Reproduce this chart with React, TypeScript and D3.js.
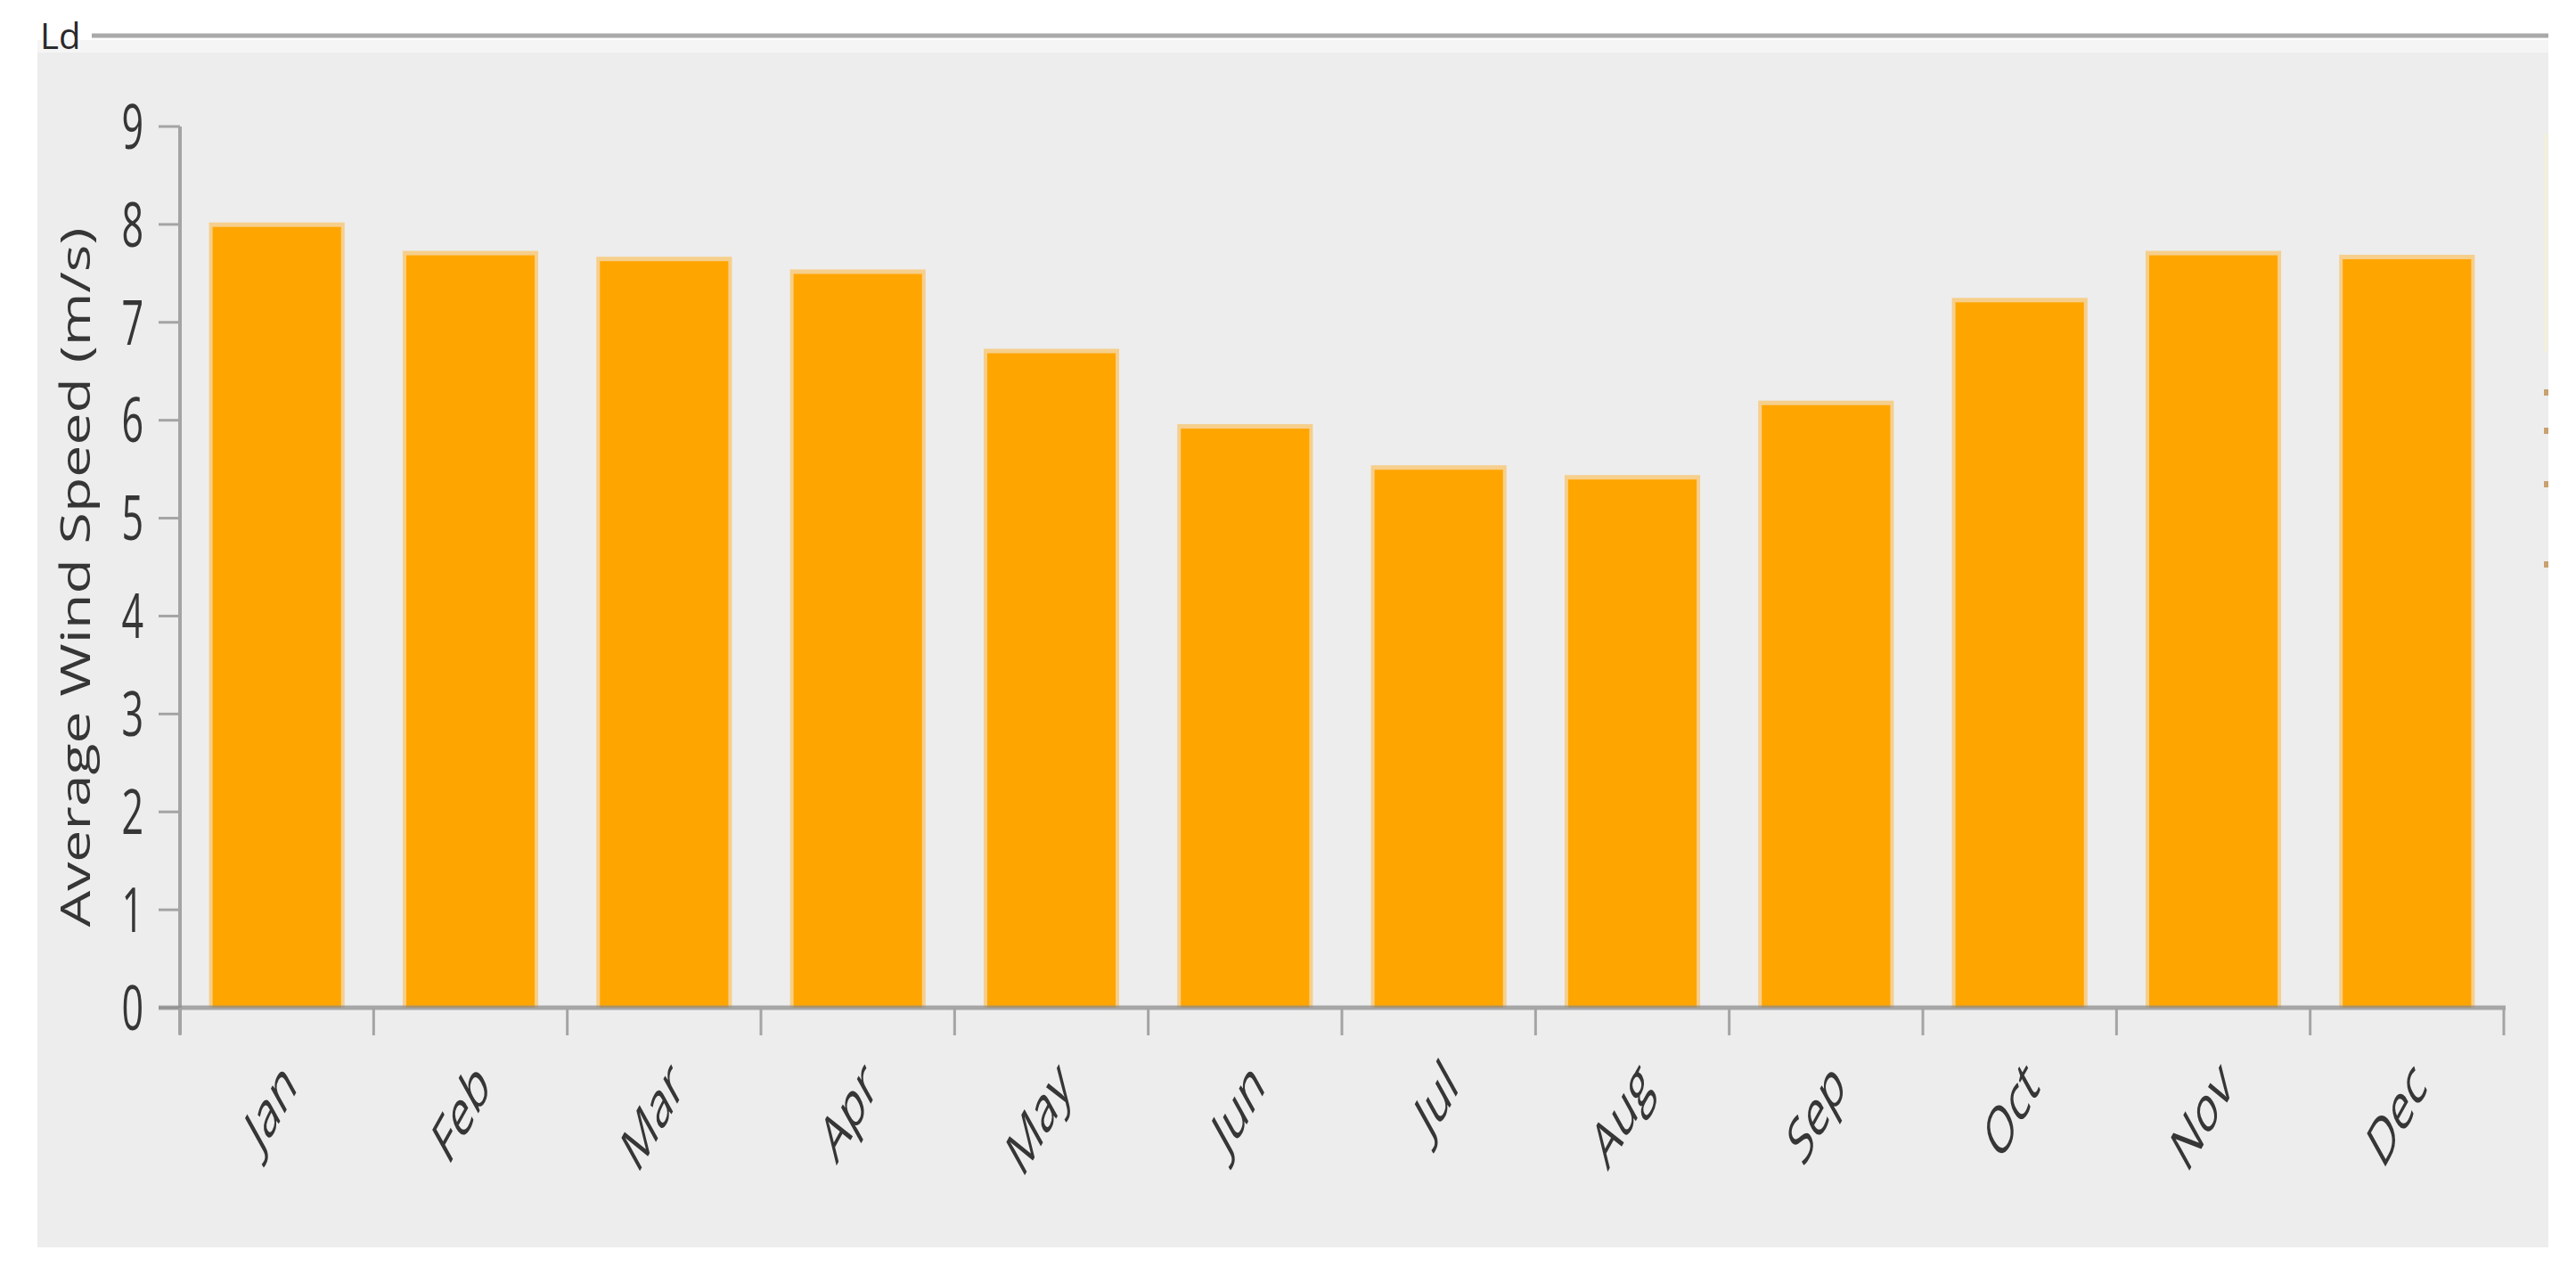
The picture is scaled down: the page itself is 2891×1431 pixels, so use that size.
import React from "react";
import * as d3 from "d3";

const months = ["Jan", "Feb", "Mar", "Apr", "May", "Jun", "Jul", "Aug", "Sep", "Oct", "Nov", "Dec"];
const windSpeed = [8.02, 7.73, 7.67, 7.54, 6.73, 5.96, 5.54, 5.44, 6.2, 7.25, 7.73, 7.69];
const yTicks = [0, 1, 2, 3, 4, 5, 6, 7, 8, 9];
const yLabel = "Average Wind Speed (m/s)";
const cornerText = "Ld";
const rightMarks = [437, 480, 540, 630];

const W = 2891;
const H = 1431;
const FONT = "'Open Sans', 'Noto Sans', 'DejaVu Sans', sans-serif";
const TXT = "#363636";
const AXIS = "#a4a4a4";

export default function App() {
  const y = d3.scaleLinear().domain([0, 9]).range([1131, 142]);
  const x = d3.scaleBand<string>().domain(months).range([202, 2810]).paddingInner(0.3).paddingOuter(0.15);
  const step = x.step();
  const x0 = x.range()[0];
  const xTicks = d3.range(months.length + 1).map((k) => x0 + k * step);
  const bw = x.bandwidth();

  return (
    <svg
      width={W}
      height={H}
      viewBox={`0 0 ${W} ${H}`}
      style={{ position: "absolute", left: 0, top: 0, display: "block" }}
    >
      <defs>
        <clipPath id="ldclip">
          <rect x={40} y={24} width={60} height={40} />
        </clipPath>
      </defs>
      <rect x={0} y={0} width={W} height={H} fill="#ffffff" />
      {/* header remnants */}
      <rect x={42} y={45} width={2818} height={14} fill="#f5f5f5" />
      <line x1={103} x2={2860} y1={40} y2={40} stroke="#a9a9a9" strokeWidth={5} />
      <text x={45} y={55} fontFamily={FONT} fontSize={40} fill="#2a2a2a" clipPath="url(#ldclip)">
        {cornerText}
      </text>
      {/* panel */}
      <rect x={42} y={59} width={2818} height={1341} fill="#ededed" />
      <rect x={2855} y={150} width={4} height={245} fill="#f2efdc" />
      {rightMarks.map((m) => (
        <rect key={m} x={2855} y={m} width={5} height={7} fill="#c9a070" />
      ))}

      {/* bars */}
      {months.map((m, i) => {
        const top = y(windSpeed[i]);
        const bx = x(m) as number;
        return (
          <g key={m}>
            <rect x={bx} y={top} width={bw} height={y(0) - top} fill="#f6cf8c" />
            <rect x={bx + 4} y={top + 5} width={bw - 8} height={y(0) - top - 5} fill="#ffa500" />
          </g>
        );
      })}

      {/* y axis */}
      <line x1={202} x2={202} y1={y(9)} y2={1161} stroke={AXIS} strokeWidth={4} />
      {yTicks.map((t) => (
        <g key={t}>
          <line x1={178} x2={202} y1={y(t)} y2={y(t)} stroke={AXIS} strokeWidth={3} />
          <text
            transform={`translate(161,${y(t)}) scale(1,1.6)`}
            dy="0.36em"
            textAnchor="end"
            fontFamily={FONT}
            fontSize={43}
            fill={TXT}
          >
            {t}
          </text>
        </g>
      ))}
      <text
        transform={`translate(101,648) rotate(-90)`}
        textAnchor="middle"
        fontFamily={FONT}
        fontSize={46}
        fill={TXT}
        textLength={785}
        lengthAdjust="spacingAndGlyphs"
      >
        {yLabel}
      </text>

      {/* x axis */}
      <line x1={178} x2={xTicks[xTicks.length - 1] + 2} y1={y(0)} y2={y(0)} stroke="#8e8e8e" strokeOpacity={0.75} strokeWidth={5} />
      {xTicks.map((t, k) => (
        <line key={k} x1={t} x2={t} y1={y(0)} y2={1162} stroke={AXIS} strokeWidth={3} />
      ))}
      {months.map((m) => {
        const cx = (x(m) as number) + bw / 2;
        return (
          <text
            key={m}
            transform={`translate(${cx + 24},1222) scale(1,1.8) rotate(-45)`}
            textAnchor="end"
            fontFamily={FONT}
            fontSize={41}
            fill={TXT}
          >
            {m}
          </text>
        );
      })}
    </svg>
  );
}
